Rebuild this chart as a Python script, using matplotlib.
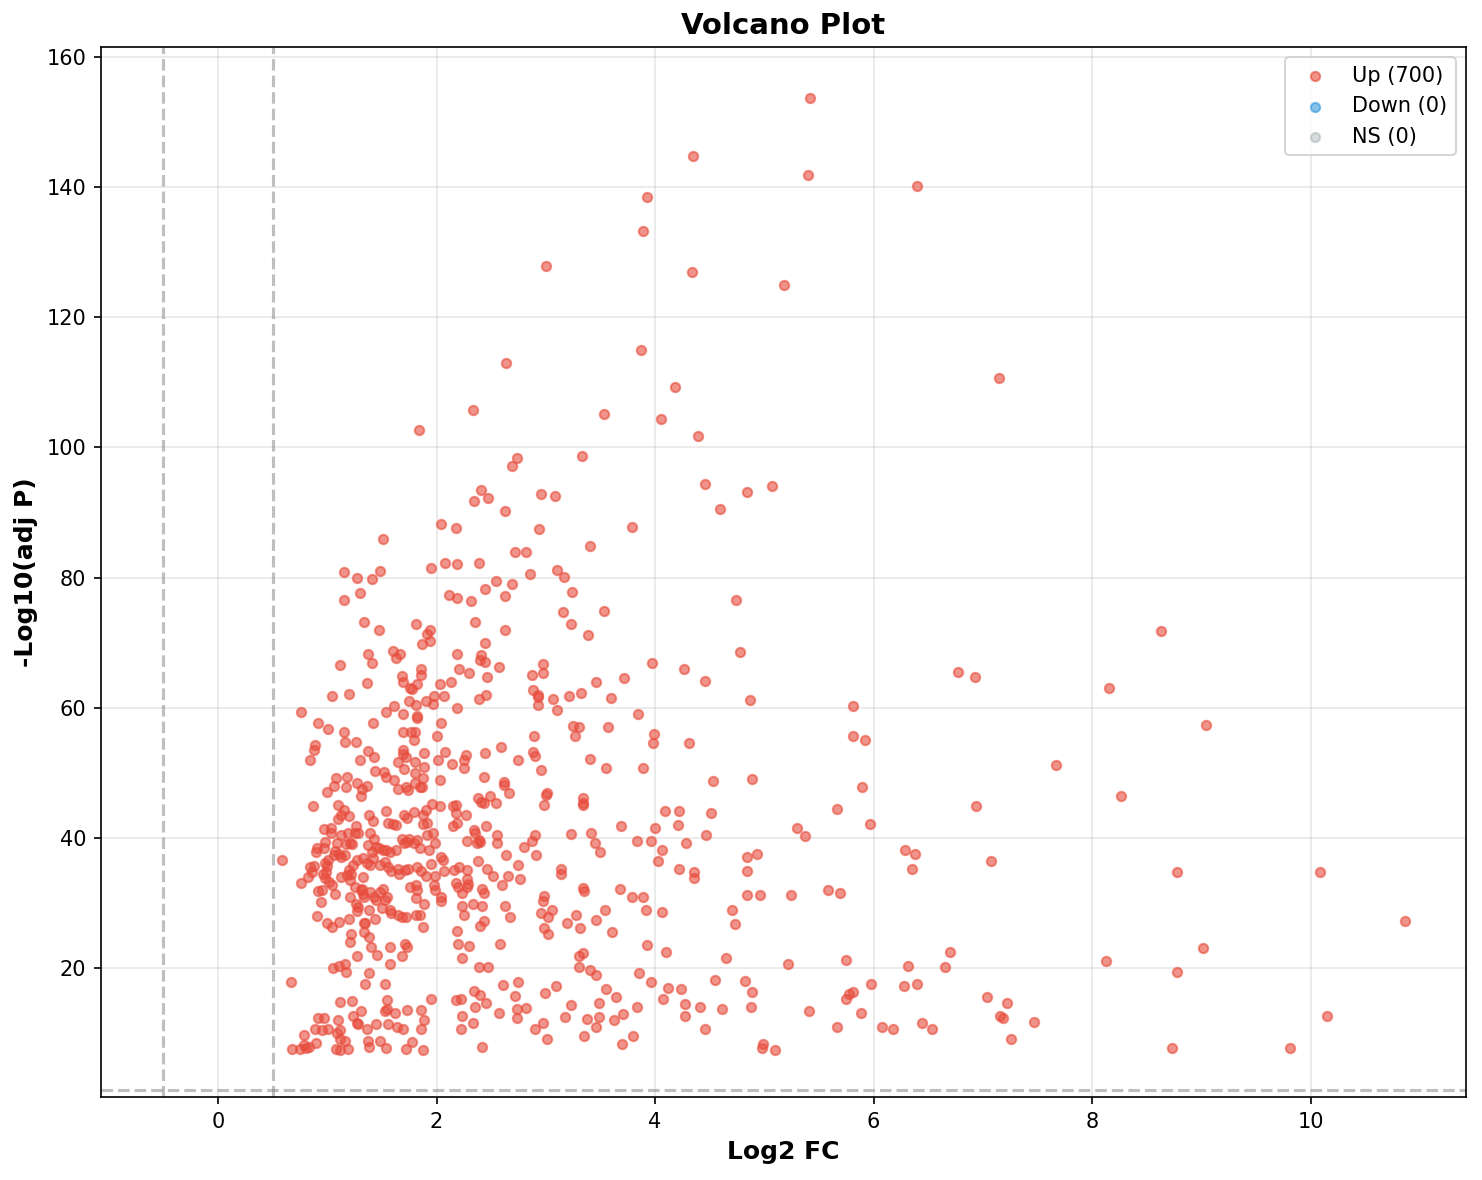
import matplotlib
matplotlib.use("Agg")
import matplotlib.pyplot as plt
import numpy as np

# ---- data: (log2 fold change, -log10 adjusted p) for significant "Up" genes ----
up_upper = [
    (5.42,153.7),(4.35,144.7),(5.40,141.9),(6.40,140.2),(3.93,138.5),(3.89,133.3),(3.00,127.9),
    (4.34,126.9),(5.18,125.0),(3.87,114.9),(2.64,112.9),(4.18,109.2),(2.33,105.7),(3.53,105.1),
    (4.05,104.3),(1.84,102.7),(4.39,101.7),(3.33,98.6),(2.74,98.3),(2.69,97.2),(4.46,94.3),
    (5.07,94.0),(4.84,93.2),(4.59,90.5),(2.41,93.4),(2.47,92.2),(2.34,91.7),(2.96,92.8),
    (3.08,92.5),(2.63,90.2),(2.04,88.3),(2.18,87.6),(2.94,87.4),(3.79,87.7),(1.51,85.9),
    (7.15,110.6),
]
up_mid_right = [
    (3.40,84.8),(3.53,74.9),(4.74,76.5),(4.78,68.6),(3.97,66.8),(4.26,66.0),(3.72,64.5),
    (4.46,64.1),(3.60,61.5),(4.87,61.2),(5.81,60.2),(3.84,59.1),(3.57,57.1),(3.99,55.9),
    (3.98,54.6),(4.31,54.6),(5.81,55.7),(5.92,55.1),(3.55,50.7),(3.89,50.7),(4.53,48.7),
    (4.89,49.0),(5.89,47.8),
]
up_far_right = [
    (6.77,65.5),(6.93,64.7),(8.15,63.0),(8.63,71.8),(9.04,57.3),(7.67,51.2),(8.26,46.5),
    (6.94,44.9),(6.29,38.2),(6.38,37.5),(6.35,35.3),(7.07,36.5),(8.78,34.8),(10.08,34.7),
    (10.86,27.2),(6.70,22.4),(6.31,20.4),(6.65,20.1),(8.13,21.1),(9.01,23.1),(8.78,19.4),
    (6.28,17.2),(6.40,17.5),(7.04,15.6),(7.22,14.6),(7.16,12.6),(7.18,12.3),(7.47,11.7),
    (7.26,9.1),(6.44,11.6),(6.53,10.7),(8.73,7.7),(9.81,7.7),(10.15,12.6),
]
up_low_right = [
    (4.09,44.2),(4.22,44.1),(4.51,43.8),(5.66,44.5),(3.69,41.8),(4.00,41.6),(4.21,42.0),
    (5.30,41.5),(5.37,40.3),(5.97,42.1),(3.83,39.5),(3.96,39.5),(4.06,38.1),(4.28,39.2),
    (4.47,40.4),(4.03,36.4),(4.84,37.0),(4.93,37.5),(4.84,34.9),(4.22,35.3),(4.36,34.8),
    (4.36,33.8),(3.68,32.2),(3.79,30.9),(3.89,31.0),(3.54,28.9),(3.92,28.9),(4.06,28.6),
    (4.84,31.2),(4.96,31.2),(5.24,31.2),(5.58,32.0),(5.69,31.6),(4.70,28.9),(4.73,26.7),
    (3.61,25.5),(3.93,23.6),(4.10,22.4),(4.65,21.5),(5.22,20.7),(5.75,21.2),(3.85,19.2),
    (3.96,17.8),(3.55,16.8),(3.64,15.5),(4.12,17.0),(4.24,16.8),(4.55,18.1),(4.82,18.0),
    (4.89,16.4),(4.07,15.2),(4.27,14.5),(4.41,14.0),(4.61,13.7),(4.88,14.0),(3.83,14.1),
    (4.27,12.6),(4.46,10.7),(3.71,12.9),(3.62,12.0),(3.70,8.4),(3.80,9.5),(4.99,8.4),
    (4.98,7.8),(5.10,7.4),(5.41,13.4),(5.66,11.0),(5.81,16.3),(5.77,16.0),(5.75,15.3),
    (5.88,13.1),(5.98,17.5),(6.08,10.9),(6.18,10.6),(3.49,14.6),(3.49,12.5),
]
up_center_upper = [
    (1.95,81.5),(2.08,82.2),(2.19,82.1),(2.39,82.3),(2.72,83.9),(2.82,83.9),(2.86,80.5),
    (3.10,81.1),(3.17,80.1),(2.54,79.4),(2.69,79.0),(2.44,78.3),(2.11,77.3),(2.19,76.8),
    (2.32,76.4),(2.63,77.1),(3.24,77.8),(3.16,74.7),(3.23,72.8),(3.39,71.1),(2.35,73.1),
    (2.63,71.9),(2.44,69.9),(1.94,72.0),(1.91,71.4),(1.94,70.3),(1.87,69.8),(2.19,68.2),
    (2.41,68.1),(2.40,67.4),(2.44,67.0),(2.57,66.3),(2.21,65.9),(2.30,65.3),(2.46,64.7),
    (2.97,66.7),(2.87,65.0),(2.97,65.3),(3.46,64.0),(2.03,63.7),(2.13,64.0),(1.86,65.9),
    (1.86,65.0),(2.88,62.7),(2.93,62.0),(2.93,61.6),(3.07,61.3),(3.21,61.8),(3.32,62.2),
    (2.39,61.3),(2.45,61.9),(1.98,61.8),(2.07,61.8),(1.90,61.0),(1.97,60.6),(2.19,59.9),
    (2.93,60.4),(3.10,59.6),(2.04,57.6),(3.25,57.2),(3.30,57.0),(3.27,55.6),(2.89,55.7),
    (2.00,55.6),(3.40,52.2),(1.89,53.0),(2.08,53.2),(2.01,52.0),(2.14,51.4),(1.89,50.9),
    (2.27,52.7),(2.25,52.0),(2.25,50.8),(2.44,53.0),(2.59,53.9),(2.75,51.9),(2.88,53.2),
    (2.90,52.6),(2.96,50.4),(2.03,48.9),(2.43,49.3),(2.62,48.6),(2.62,48.1),(2.66,46.9),
    (3.01,46.9),(3.00,46.6),(3.34,46.1),(1.85,47.8),(2.38,46.2),(2.49,46.5),
]
up_left_upper = [
    (1.15,80.9),(1.27,79.9),(1.41,79.7),(1.48,81.0),(1.30,77.7),(1.15,76.5),(1.34,73.1),
    (1.47,71.9),(1.81,72.8),(1.37,68.3),(1.41,66.8),(1.60,68.7),(1.63,67.6),(1.67,68.2),
    (1.12,66.5),(1.68,64.9),(1.69,63.9),(1.76,63.1),(1.78,62.9),(1.82,63.6),(1.36,63.8),
    (1.04,61.8),(1.20,62.1),(1.75,61.0),(1.81,60.4),(1.61,60.3),(1.54,59.4),(1.69,59.0),
    (1.82,58.8),(1.82,58.4),(0.76,59.3),(1.42,57.7),(0.92,57.6),(1.01,56.7),(1.15,56.3),
    (1.69,56.3),(1.77,56.3),(1.80,56.3),(1.79,55.1),(1.16,54.7),(1.26,54.7),(0.89,54.3),
    (0.88,53.5),(0.84,52.0),(1.37,53.4),(1.43,52.4),(1.30,52.0),(1.69,53.5),(1.69,52.9),
    (1.72,52.5),(1.80,51.6),(1.65,51.6),(1.70,50.6),(1.44,50.3),(1.52,50.2),(1.54,49.4),
    (1.61,48.9),(1.80,49.9),(1.88,49.2),(1.80,48.4),(1.87,47.8),(1.72,47.8),(1.65,47.5),
    (1.74,47.3),(1.08,49.2),(1.18,49.3),(1.06,47.9),(1.17,47.8),(1.00,47.1),(1.27,48.5),
    (1.32,47.5),(1.36,47.9),(1.31,46.5),
]
up_center_lower = [
    (2.03,44.9),(1.96,45.2),(2.15,44.9),(2.18,45.1),(2.41,45.5),(2.43,45.3),(2.54,45.3),
    (2.98,45.1),(3.34,45.4),(3.34,45.0),(2.27,43.5),(2.18,43.8),(2.15,41.8),(2.19,42.3),
    (2.45,41.9),(2.34,41.2),(2.35,40.8),(2.37,39.2),(2.40,39.3),(2.39,39.7),(2.28,39.6),
    (2.55,40.4),(2.55,39.2),(2.80,38.6),(2.87,39.5),(2.90,40.5),(2.91,37.4),(2.64,37.3),
    (2.75,35.9),(2.38,36.5),(3.23,40.6),(3.41,40.7),(3.45,39.2),(3.50,37.9),(3.14,35.2),
    (3.14,34.4),(2.46,35.3),(2.52,34.2),(2.65,34.1),(2.76,33.7),(2.60,32.7),(2.21,35.6),
    (2.28,35.1),(2.16,35.1),(2.28,33.7),(2.29,32.9),(2.28,32.5),(2.18,33.0),(2.20,32.4),
    (2.23,31.6),(2.42,32.2),(2.43,31.6),(3.34,32.3),(3.35,31.9),(2.07,34.9),(1.95,36.0),
    (1.99,34.1),(2.04,37.1),(2.06,36.6),(1.93,38.2),(1.91,40.4),(1.97,40.7),(1.99,39.2),
    (1.88,42.2),(1.91,42.3),(1.98,32.7),(1.99,32.0),(2.04,30.9),(2.04,30.3),(1.89,29.9),
    (2.23,29.5),(2.25,28.1),(2.33,29.8),(2.42,29.5),(2.43,27.3),(2.40,26.5),(2.63,29.6),
    (2.67,27.8),(2.19,25.7),(2.20,23.7),(2.30,23.4),(2.23,21.5),(2.58,23.7),(1.88,26.3),
    (2.98,31.1),(2.97,30.3),(3.06,29.0),(2.96,28.4),(3.02,27.8),(2.98,26.2),(3.02,25.3),
    (3.19,27.0),(3.28,28.2),(3.31,26.1),(3.46,27.4),(3.30,21.8),(3.34,22.3),(3.30,20.2),
    (3.40,19.7),(3.46,18.9),(2.39,20.2),(2.47,20.2),(2.61,17.4),(2.75,17.9),(2.72,15.7),
    (2.34,16.5),(2.40,15.9),(2.45,14.7),(2.35,14.1),(2.18,15.1),(2.22,15.2),(2.57,13.1),
    (2.74,13.7),(2.82,13.9),(2.74,12.4),(2.23,12.6),(2.33,11.6),(2.22,10.7),(2.99,16.2),
    (3.09,17.2),(3.23,14.4),(3.18,12.5),(3.38,12.2),(3.46,11.0),(2.90,10.7),(2.97,11.6),
    (3.01,9.1),(3.35,9.6),(2.42,7.9),(1.95,15.2),(1.86,13.5),(1.89,12.0),(1.86,10.6),
    (1.88,7.4),(1.85,28.1),(1.86,34.9),(1.90,34.1),
]
up_left_lower = [
    (0.87,44.9),(1.10,45.0),(1.15,44.3),(1.13,43.5),(1.20,43.3),(1.10,42.9),(1.38,43.5),
    (1.42,42.6),(1.54,44.1),(0.97,41.3),(1.03,41.5),(1.03,40.7),(0.91,38.5),(0.90,37.8),
    (0.98,39.4),(0.97,38.5),(1.07,38.0),(1.06,37.4),(1.01,36.6),(1.13,40.5),(1.19,40.7),
    (1.26,41.8),(1.25,40.7),(1.28,40.7),(1.09,39.2),(1.17,39.0),(1.21,39.2),(1.23,39.1),
    (0.98,36.1),(1.00,35.7),(0.99,34.8),(1.11,37.6),(1.13,37.0),(1.16,37.4),(1.27,36.6),
    (1.24,35.8),(1.20,35.1),(1.13,34.0),(1.18,34.3),(1.22,34.5),(0.84,35.6),(0.88,35.7),
    (0.86,34.8),(0.82,34.0),(0.76,33.1),(0.59,36.6),(0.96,34.4),(0.98,33.9),(0.95,32.0),
    (0.92,31.8),(1.04,32.7),(1.02,33.3),(1.07,31.4),(0.94,30.2),(0.91,28.0),(1.00,26.9),
    (1.04,26.3),(1.11,27.1),(1.21,31.0),(1.20,27.6),(1.26,29.9),(1.28,29.4),(1.27,28.8),
    (1.22,25.2),(1.21,24.0),(1.34,26.9),(1.34,25.6),(1.38,24.8),(1.40,23.3),(1.32,32.2),
    (1.33,31.4),(1.34,31.0),(1.39,31.7),(1.38,29.0),(1.44,27.6),(1.35,27.0),(1.27,21.9),
    (1.46,22.0),(1.57,23.3),(1.57,20.7),(1.68,21.9),(1.71,23.7),(1.73,23.2),(1.43,31.0),
    (1.45,30.4),(1.48,31.7),(1.51,32.2),(1.55,31.0),(1.53,30.4),(1.50,29.3),(1.57,28.9),
    (1.58,28.5),(1.65,28.1),(1.68,27.8),(1.72,27.9),(1.81,28.1),(1.11,20.3),(1.05,20.0),
    (1.16,20.7),(1.17,19.4),(1.38,19.3),(1.35,17.5),(1.53,17.5),(0.67,17.8),(1.12,14.8),
    (1.23,14.9),(1.55,15.1),(1.53,13.4),(1.55,13.7),(1.62,13.1),(1.73,13.5),(1.31,13.4),
    (1.24,12.6),(1.27,11.6),(1.28,11.4),(1.45,11.4),(1.36,10.6),(1.56,11.4),(1.64,11.0),
    (1.69,10.6),(0.92,12.3),(0.97,12.4),(0.89,10.6),(0.95,10.5),(1.10,12.0),(1.12,10.5),
    (1.01,10.7),(0.79,9.8),(0.79,8.2),(0.83,7.9),(0.81,7.8),(0.90,8.5),(0.68,7.5),
    (0.75,7.5),(1.09,10.0),(1.12,9.1),(1.08,7.5),(1.12,7.4),(1.16,8.8),(1.19,7.5),
    (1.37,8.8),(1.38,7.9),(1.48,8.8),(1.54,7.8),(1.72,7.5),(1.78,8.6),(1.70,43.5),
    (1.73,43.0),(1.79,44.0),(1.88,43.5),(1.90,44.3),(1.56,42.3),(1.60,42.2),(1.63,42.0),
    (1.39,40.7),(1.43,39.8),(1.45,38.6),(1.47,38.4),(1.51,38.1),(1.54,38.1),(1.57,37.9),
    (1.63,38.1),(1.37,38.9),(1.41,37.9),(1.68,39.9),(1.70,39.2),(1.73,39.4),(1.75,39.8),
    (1.79,39.2),(1.82,39.7),(1.85,38.4),(1.33,36.9),(1.36,36.2),(1.39,35.8),(1.42,36.9),
    (1.48,35.8),(1.53,36.3),(1.56,35.6),(1.58,34.9),(1.65,35.3),(1.66,34.5),(1.71,35.1),
    (1.74,35.3),(1.82,35.6),(1.76,32.5),(1.81,30.7),(1.33,34.0),(1.31,32.0),(1.21,33.5),
    (1.25,32.5),(1.81,32.7),(1.82,32.0),
]
down_genes = []   # none
ns_genes = []     # none

legend_labels = ["Up (700)", "Down (0)", "NS (0)"]
fc_threshold = 0.5
p_threshold = 0.05

up_all = (up_upper + up_mid_right + up_far_right + up_low_right + up_center_upper
          + up_left_upper + up_center_lower + up_left_lower)
up_x = [p[0] for p in up_all]
up_y = [p[1] for p in up_all]

fig = plt.figure(figsize=(1482 / 150, 1180 / 150), dpi=150)
ax = fig.add_axes([101 / 1482, 1 - 1097 / 1180, (1466 - 101) / 1482, (1097 - 47) / 1180])

ax.scatter(up_x, up_y, c="#e74c3c", alpha=0.6, s=20, label=legend_labels[0])
ax.scatter([p[0] for p in down_genes], [p[1] for p in down_genes], c="#3498db",
           alpha=0.6, s=20, label=legend_labels[1])
ax.scatter([p[0] for p in ns_genes], [p[1] for p in ns_genes], c="#95a5a6",
           alpha=0.4, s=20, label=legend_labels[2])

ax.axvline(-fc_threshold, color="gray", linestyle="--", alpha=0.5, linewidth=1.5)
ax.axvline(fc_threshold, color="gray", linestyle="--", alpha=0.5, linewidth=1.5)
ax.axhline(-np.log10(p_threshold), color="gray", linestyle="--", alpha=0.5, linewidth=1.5)

ax.set_xlim(-1.07, 11.42)
ax.set_ylim(0.2, 161.5)
ax.set_xticks([0, 2, 4, 6, 8, 10])
ax.set_yticks([20, 40, 60, 80, 100, 120, 140, 160])
ax.grid(True, alpha=0.3)
ax.set_axisbelow(True)

ax.set_xlabel("Log2 FC", fontsize=12, fontweight="bold")
ax.set_ylabel("-Log10(adj P)", fontsize=12, fontweight="bold")
ax.set_title("Volcano Plot", fontsize=14, fontweight="bold")
ax.legend(loc="upper right", fontsize=10)

fig.savefig("out.png", dpi=150)
